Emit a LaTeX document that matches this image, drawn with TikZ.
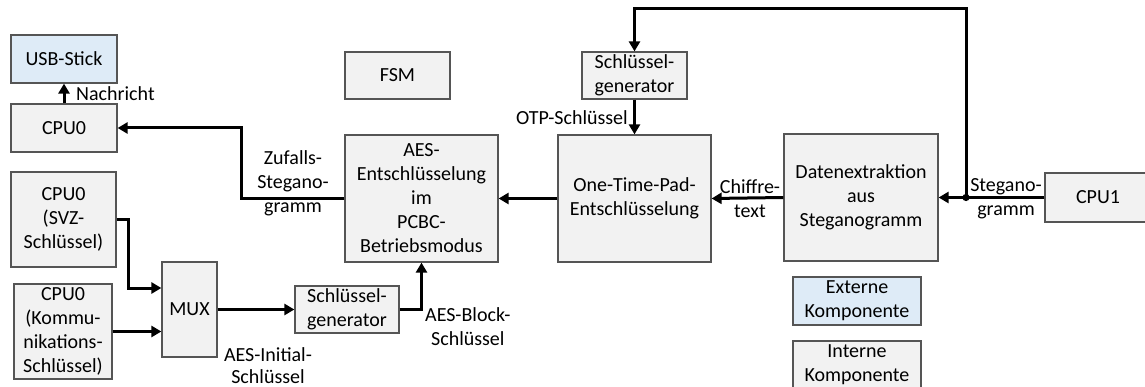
\documentclass[tikz,border=0pt]{standalone}
\usepackage{fontspec}
\setmainfont{Carlito}
\usetikzlibrary{arrows.meta,calc}
\definecolor{boxgray}{HTML}{F2F2F2}
\definecolor{boxblue}{HTML}{DEEBF7}
\definecolor{edgegray}{HTML}{555555}
\begin{document}
\begin{tikzpicture}[x=1pt,y=-1pt,
  font=\fontsize{20}{24}\selectfont,
  blk/.style={draw=edgegray,line width=1.2pt,fill=boxgray,inner sep=0pt,align=center},
  ext/.style={blk,fill=boxblue},
  wire/.style={line width=3pt,line join=miter},
  arr/.style={wire,-{Triangle[length=10pt,width=11pt]}},
  lbl/.style={inner sep=0pt,align=center}]
\useasboundingbox (0,0) rectangle (1145,387);
% boxes
\node[ext,minimum width=106pt,minimum height=48pt] (usb) at (64,59) {USB-Stick};
\node[blk,minimum width=106pt,minimum height=48pt] (cpu0) at (64,128) {CPU0};
\node[blk,minimum width=105pt,minimum height=47pt] (fsm) at (397.5,75.5) {FSM};
\node[blk,minimum width=153pt,minimum height=127pt] (aes) at (421.5,198.5) {AES-\\Entschlüsselung\\im\\PCBC-\\Betriebsmodus};
\node[blk,minimum width=153pt,minimum height=127pt] (otp) at (634.5,198.5) {One-Time-Pad-\\Entschlüsselung};
\node[blk,minimum width=105pt,minimum height=47pt] (sg1) at (634.5,75.5) {Schlüssel-\\generator};
\node[blk,minimum width=154pt,minimum height=127pt] (daten) at (861,197.5) {Datenextraktion\\aus\\Steganogramm};
\node[blk,minimum width=106pt,minimum height=49pt,text width=100pt] (cpu1) at (1098,197.5) {CPU1};
\node[blk,minimum width=105pt,minimum height=95pt] (svz) at (63.5,219.5) {CPU0\\(SVZ-\\Schlüssel)};
\node[blk,minimum width=98pt,minimum height=95pt] (komm) at (63,331.5) {CPU0\\(Kommu-\\nikations-\\Schlüssel)};
\node[blk,minimum width=55pt,minimum height=95pt] (mux) at (189.5,309.5) {MUX};
\node[blk,minimum width=104pt,minimum height=47pt] (sg2) at (347,309.5) {Schlüssel-\\generator};
\node[ext,minimum width=128pt,minimum height=48pt] (extk) at (857,301) {Externe\\Komponente};
\node[blk,minimum width=128pt,minimum height=48pt] (intk) at (857,365) {Interne\\Komponente};
% connectors
\coordinate (j) at (966,197.5);
\draw[arr] (cpu0) -- (usb);
\node[lbl,anchor=west] (nach) at (76,94) {Nachricht};
\draw[arr] (aes.west) -- (241,198.5) |- (cpu0.east);
\node[lbl] (zuf) at (293,183) {Zufalls-\\Stegano-\\gramm};
\draw[arr] (otp.west) -- (aes.east);
\draw[arr] (daten.west) -- (otp.east);
\node[lbl] (chif) at (750,199) {Chiffre-\\text};
\draw[arr] (cpu1.west) -- (daten.east);
\fill (j) circle (3.6pt);
\draw[arr] (j) -- (966,9) -| (sg1.north);
\node[lbl] (steg) at (1006,199) {Stegano-\\gramm};
\draw[arr] (sg1.south) -- (otp.north);
\node[lbl,anchor=east] (otpk) at (628,118) {OTP-Schlüssel};
\draw[arr] (svz.east) -- (128,219.5) |- ([yshift=21.5pt]mux.west);
\draw[arr] (komm.east) -- (komm.east -| mux.west);
\draw[arr] (mux.east) -- (sg2.west);
\draw[arr] (sg2.east) -| (aes.south);
\node[lbl,font=\fontsize{20}{22}\selectfont] (aesi) at (268,365.5) {AES-Initial-\\Schlüssel};
\node[lbl,anchor=west] (aesb) at (425,327) {AES-Block-\\Schlüssel};
\end{tikzpicture}
\end{document}
